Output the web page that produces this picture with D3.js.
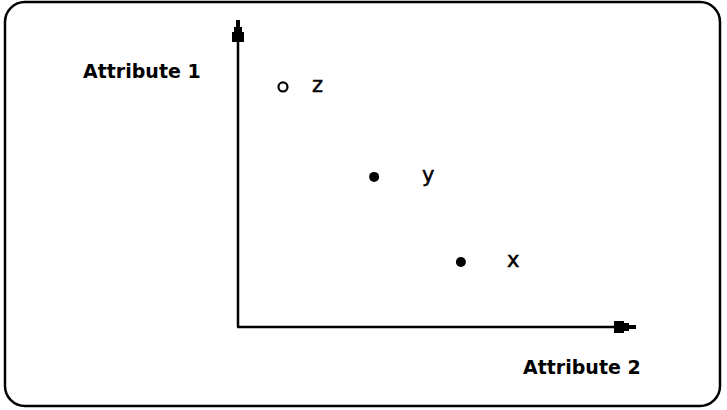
<!DOCTYPE html>
<html>
<head>
<meta charset="utf-8">
<script src="https://cdn.jsdelivr.net/npm/d3@7"></script>
<style>
  body { margin: 0; background: #fff; }
  svg { display: block; }
  text { font-family: "DejaVu Sans", sans-serif; fill: #000; }
  .axis-title { font-weight: bold; font-size: 19px; }
  .pt-label { font-size: 21px; stroke: #000; stroke-width: 0.5; }
</style>
</head>
<body>
<div id="container"><svg></svg></div>
<script>
let width = 727;
let height = 410;

// points: attribute 2 on the horizontal axis, attribute 1 on the vertical axis
let pointNames = ['z', 'y', 'x'];
let attr2Values = [11.3, 34.2, 56.0];
let attr1Values = [78.2, 48.9, 21.2];
let pointFilled = [false, true, true];
let axisTitles = ['Attribute 1', 'Attribute 2'];

let svg = d3.select('#container').select('svg')
    .attr('width', width)
    .attr('height', height);

// frame
svg.append('rect')
    .attr('x', 5).attr('y', 2)
    .attr('width', 715).attr('height', 404)
    .attr('rx', 20).attr('ry', 20)
    .attr('fill', 'none')
    .attr('stroke', '#000')
    .attr('stroke-width', 2.5);

let x = d3.scaleLinear().domain([0, 100]).range([238, 636]);
let y = d3.scaleLinear().domain([0, 100]).range([327, 20]);

// axes (plain lines with arrowheads)
let g = svg.append('g').attr('stroke', '#000').attr('fill', '#000');
g.append('line')
    .attr('x1', x(0)).attr('y1', y(0))
    .attr('x2', x(0)).attr('y2', y(100) + 2)
    .attr('stroke-width', 2.5);
g.append('line')
    .attr('x1', x(0) - 1).attr('y1', y(0))
    .attr('x2', x(100) - 2).attr('y2', y(0))
    .attr('stroke-width', 2.5);

// stepped arrow heads
let ax = x(0), ay = y(100);
g.append('path')
    .attr('stroke', 'none')
    .attr('d', `M${ax-2},${ay} h4 v7 h2 v5 h2 v10 h-12 v-10 h2 v-5 h2 z`);
let bx = x(100), by = y(0);
g.append('path')
    .attr('stroke', 'none')
    .attr('d', `M${bx},${by-2} v4 h-7 v2 h-5 v2 h-10 v-12 h10 v2 h5 v2 z`);

// axis titles
svg.append('text')
    .attr('class', 'axis-title')
    .attr('x', 83).attr('y', 78)
    .text(axisTitles[0]);
svg.append('text')
    .attr('class', 'axis-title')
    .attr('x', 523).attr('y', 374)
    .text(axisTitles[1]);

let pts = pointNames.map((n, i) => ({name: n, a2: attr2Values[i], a1: attr1Values[i], filled: pointFilled[i]}));
let labelDx = [35, 54, 52];

svg.append('g')
    .selectAll('circle')
    .data(pts)
    .join('circle')
    .attr('cx', d => x(d.a2))
    .attr('cy', d => y(d.a1))
    .attr('r', d => d.filled ? 5 : 4.5)
    .attr('fill', d => d.filled ? '#000' : '#fff')
    .attr('stroke', '#000')
    .attr('stroke-width', d => d.filled ? 0 : 2.2);

svg.append('g')
    .selectAll('text')
    .data(pts)
    .join('text')
    .attr('class', 'pt-label')
    .attr('x', (d, i) => x(d.a2) + labelDx[i] - 6)
    .attr('y', d => y(d.a1) + 5)
    .text(d => d.name);
</script>
</body>
</html>
